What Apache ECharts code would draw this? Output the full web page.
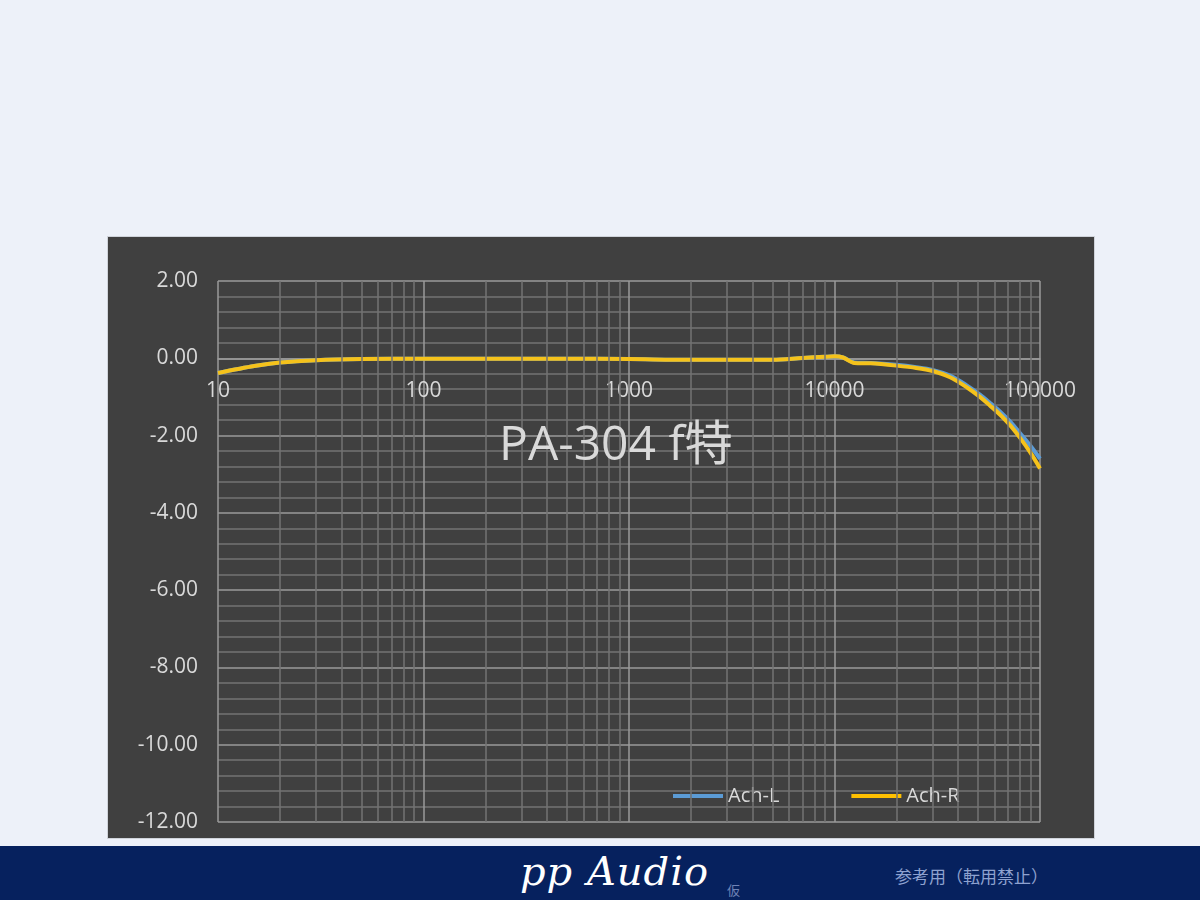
<!DOCTYPE html>
<html>
<head>
<meta charset="utf-8">
<script src="https://cdn.jsdelivr.net/npm/echarts@6/dist/echarts.min.js"></script>
<style>
  html, body { margin:0; padding:0; width:1200px; height:900px; background:#EDF1F9; overflow:hidden; }
  #chart { position:absolute; left:108px; top:237px; width:986px; height:601px; background:#404040; box-shadow:0 0 0 1px #cfd3da; }
  #banner { position:absolute; left:0; top:846px; width:1200px; height:54px; background:#06215E; }
  #logo { position:absolute; left:520px; top:848px; font-family:"DejaVu Serif", serif; font-style:italic; font-size:40px; color:#ffffff; letter-spacing:1px; }
  #kari { position:absolute; left:727px; top:880px; font-family:"Noto Sans CJK JP", sans-serif; font-size:13px; color:#6f83b5; }
  #note { position:absolute; left:895px; top:863px; font-family:"Noto Sans CJK JP", sans-serif; font-size:17px; color:#8ea2d0; }
</style>
</head>
<body>
<div id="chart"></div>
<div id="banner"></div>
<div id="logo">pp Audio</div>
<div id="kari">仮</div>
<div id="note">参考用（転用禁止）</div>
<script>
const freqs = [10, 15, 20, 30, 50, 100, 200, 500, 1000, 2000, 5000, 7000, 9000, 10000, 11000, 12500, 15000, 20000, 25000, 30000, 36500, 44000, 51000, 57000, 64000, 72000, 80000, 90000, 100000];
const achL  = [-0.38, -0.2, -0.11, -0.05, -0.02, -0.01, -0.01, -0.01, -0.02, -0.04, -0.04, 0.01, 0.04, 0.05, 0.02, -0.11, -0.12, -0.17, -0.23, -0.3, -0.45, -0.7, -0.94, -1.15, -1.38, -1.65, -1.94, -2.27, -2.6];
const achR  = [-0.38, -0.2, -0.11, -0.05, -0.02, -0.01, -0.01, -0.01, -0.02, -0.04, -0.04, 0.01, 0.04, 0.05, 0.02, -0.12, -0.13, -0.19, -0.25, -0.33, -0.49, -0.75, -1.0, -1.22, -1.46, -1.75, -2.06, -2.45, -2.85];
const seriesNames = ['Ach-L', 'Ach-R'];
const yTicks = { min: -12, max: 2, interval: 2 };
const xRange = { min: 10, max: 100000 };
const titleText = 'PA-304 f特';

const minorX = [];
for (let d = 10; d < xRange.max; d *= 10) {
  for (let k = 2; k <= 9; k++) minorX.push(d * k);
}

const labelColor = '#d9d9d9';
const majorGrid = '#9a9a9a';
const minorGrid = '#737373';
const font = 'Open Sans, Noto Sans, sans-serif';

const gridBox = { left: 110, top: 44, right: 54, bottom: 16 };
const chartH = 601;
const plotH = chartH - gridBox.top - gridBox.bottom;
// place the x axis (labels) at y = 0, like an axis crossing at zero
const xAxisOffset = -plotH * (0 - yTicks.min) / (yTicks.max - yTicks.min);

const chart = echarts.init(document.getElementById('chart'));
chart.setOption({
  backgroundColor: '#404040',
  animation: false,
  title: {
    text: titleText,
    left: 386, top: 180,
    textStyle: { color: '#d9d9d9', fontSize: 48, fontWeight: 'normal', fontFamily: 'Open Sans, Noto Sans CJK JP, sans-serif' }
  },
  legend: {
    data: seriesNames,
    left: 560, top: 544,
    icon: 'rect', itemWidth: 50, itemHeight: 4, itemGap: 72,
    textStyle: { color: labelColor, fontSize: 20, fontFamily: font }
  },
  grid: Object.assign({ containLabel: false, outerBoundsMode: 'none' }, gridBox),
  xAxis: {
    type: 'log', logBase: 10, min: xRange.min, max: xRange.max,
    position: 'bottom', offset: xAxisOffset,
    axisLine: { show: true, onZero: false, lineStyle: { color: majorGrid, width: 1.5 } },
    axisTick: { show: false },
    axisLabel: { color: labelColor, fontSize: 21, fontFamily: font, margin: 22, formatter: v => String(Math.round(v)) },
    splitLine: { show: true, lineStyle: { color: majorGrid, width: 1.5 } }
  },
  yAxis: {
    type: 'value', min: yTicks.min, max: yTicks.max, interval: yTicks.interval,
    axisLine: { show: false }, axisTick: { show: false },
    axisLabel: { color: labelColor, fontSize: 21, fontFamily: font, margin: 20, formatter: v => v.toFixed(2) },
    splitLine: { show: true, lineStyle: { color: majorGrid, width: 1.5 } },
    minorTick: { show: false, splitNumber: 5 },
    minorSplitLine: { show: true, lineStyle: { color: minorGrid, width: 1.5 } }
  },
  series: [
    {
      name: '_grid', type: 'line', data: [], z: 1, silent: true,
      markLine: {
        silent: true, symbol: ['none', 'none'], label: { show: false },
        lineStyle: { color: minorGrid, width: 1.5, type: 'solid' },
        data: minorX.map(v => ({ xAxis: v }))
      }
    },
    {
      name: seriesNames[0], type: 'line', smooth: 0.3, showSymbol: false, z: 3,
      color: '#5B9BD5', lineStyle: { width: 4, color: '#5B9BD5' },
      data: freqs.map((f, i) => [f, achL[i]])
    },
    {
      name: seriesNames[1], type: 'line', smooth: 0.3, showSymbol: false, z: 4,
      color: '#FFC000', lineStyle: { width: 4, color: '#F5C21B' },
      data: freqs.map((f, i) => [f, achR[i]])
    }
  ]
});
</script>
</body>
</html>
